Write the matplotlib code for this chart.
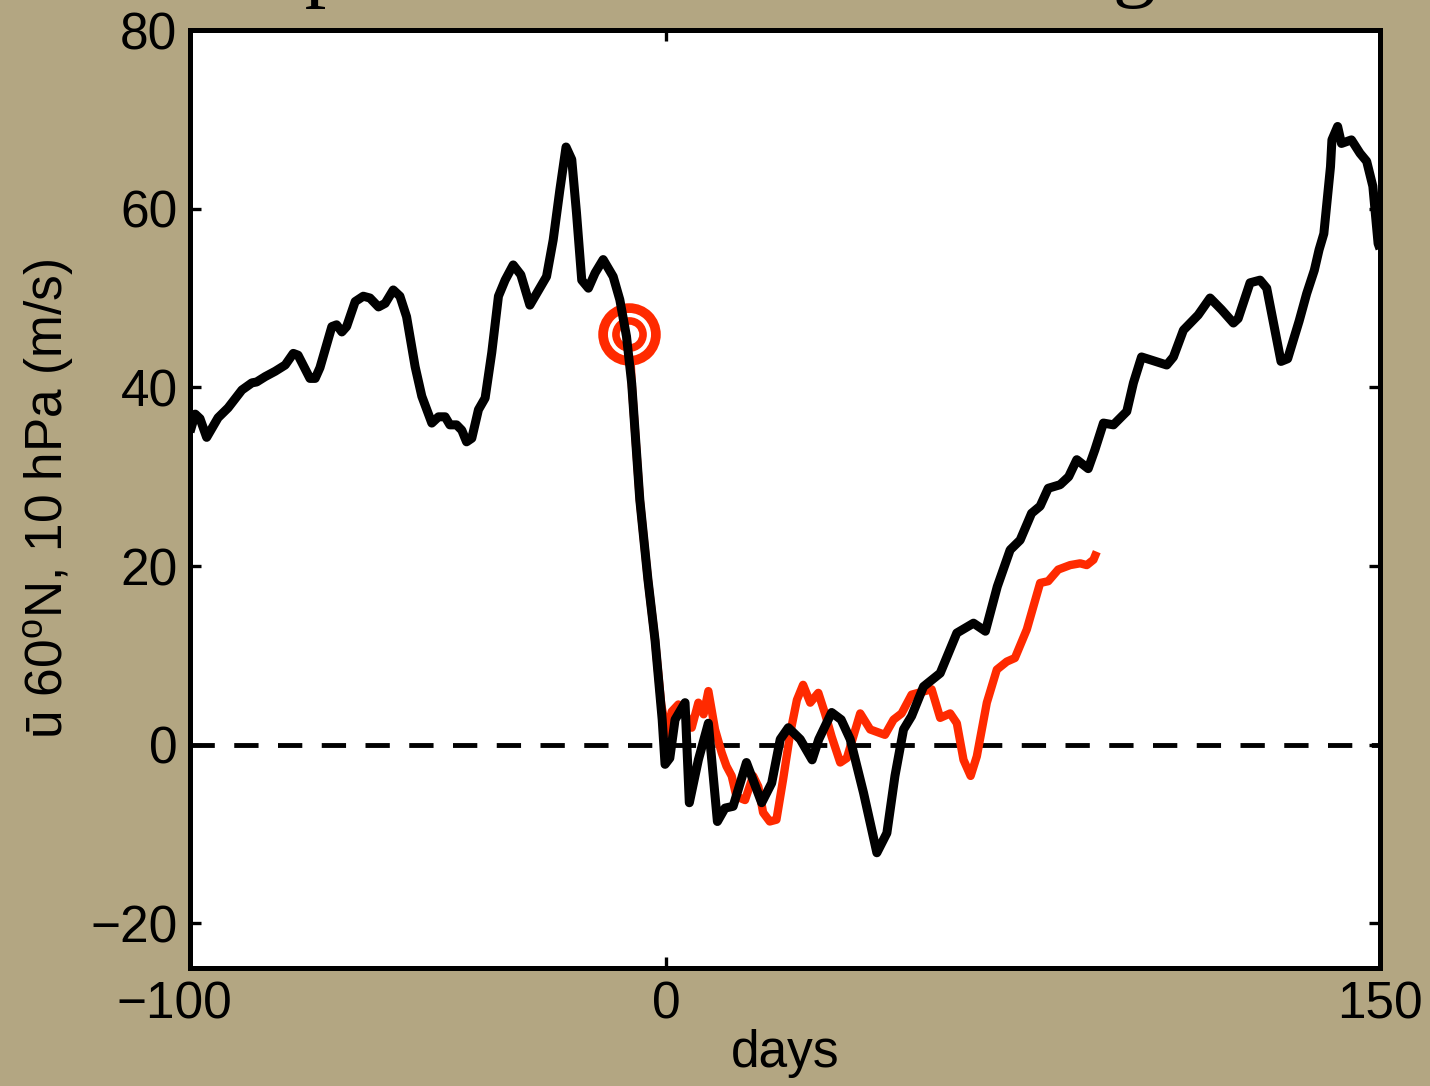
import matplotlib
matplotlib.use("Agg")
import matplotlib.pyplot as plt
from matplotlib.transforms import ScaledTranslation

plt.rcParams['font.family'] = ['Liberation Sans', 'DejaVu Sans']
plt.rcParams['mathtext.fontset'] = 'custom'
plt.rcParams['mathtext.rm'] = 'Liberation Sans'
plt.rcParams['mathtext.it'] = 'Liberation Sans:italic'
plt.rcParams['axes.unicode_minus'] = True

# Zonal-mean wind at 60N, 10 hPa (m/s) against days from the central date
obs_days = [-100, -98.9, -97.9, -96.5, -94.1, -92.0, -89.1, -87.0, -86.0, -84.2,
            -82.1, -80.0, -78.3, -77.3, -74.8, -73.7, -72.7, -70.2, -69.2, -68.1,
            -67.1, -65.3, -63.6, -62.2, -60.4, -59.0, -57.3, -55.9, -54.5, -52.7,
            -51.3, -49.2, -47.8, -46.4, -45.4, -44.0, -42.9, -41.9, -40.8, -39.4,
            -38.0, -36.6, -35.2, -33.8, -32.1, -30.5, -28.6, -25.1, -23.7, -22.3,
            -21.0, -19.8, -18.8, -17.7, -16.3, -14.9, -13.2, -11.1, -9.7, -8.3,
            -7.2, -5.5, -3.8, -2.3, -0.8, -0.2, 0.8, 1.9, 4.0, 4.9,
            6.8, 8.9, 10.8, 12.4, 14.1, 16.9, 20.1, 22.2, 24.0, 25.7,
            28.2, 30.7, 32.1, 34.8, 36.8, 38.7, 41.5, 44.3, 46.4, 48.1,
            49.9, 51.6, 54.1, 57.6, 61.1, 64.6, 67.1, 69.6, 72.3, 74.4,
            76.8, 78.6, 80.3, 82.8, 84.6, 86.3, 88.7, 90.1, 91.9, 94.0,
            96.8, 98.2, 99.9, 105.2, 106.6, 108.7, 111.8, 114.3, 116.7, 119.2,
            120.2, 122.7, 124.8, 126.2, 129.2, 130.6, 133.0, 134.6, 136.2, 137.2,
            138.2, 139.6, 139.9, 141.1, 141.9, 144.0, 145.8, 147.2, 148.5, 149.6,
            150.0]
obs_wind = [35.0, 37.0, 36.5, 34.4, 36.6, 37.7, 39.7, 40.5, 40.6, 41.2,
            41.8, 42.5, 43.8, 43.6, 41.0, 41.0, 42.2, 46.8, 47.0, 46.2,
            46.8, 49.6, 50.2, 50.0, 49.0, 49.4, 50.9, 50.2, 47.9, 42.3,
            39.0, 36.0, 36.7, 36.7, 35.8, 35.8, 35.2, 33.9, 34.3, 37.5,
            38.8, 43.9, 50.2, 52.0, 53.7, 52.6, 49.2, 52.4, 56.5, 62.1,
            66.9, 65.5, 59.5, 52.0, 51.1, 52.8, 54.3, 52.4, 49.8, 45.7,
            40.4, 27.4, 18.5, 11.7, 2.8, -2.2, -1.5, 2.8, 4.7, -6.5,
            -1.7, 2.4, -8.6, -7.1, -6.9, -2.0, -6.5, -4.3, 0.6, 1.9,
            0.6, -1.7, 0.6, 3.6, 2.8, 0.6, -5.4, -12.1, -9.9, -3.5,
            1.7, 3.2, 6.5, 8.0, 12.5, 13.6, 12.7, 17.7, 21.8, 22.9,
            25.9, 26.7, 28.7, 29.1, 30.0, 31.9, 30.9, 33.0, 36.0, 35.8,
            37.3, 40.5, 43.4, 42.5, 43.4, 46.4, 48.1, 50.0, 48.7, 47.2,
            47.7, 51.7, 52.0, 51.1, 42.9, 43.2, 47.4, 50.5, 53.1, 55.4,
            57.2, 64.7, 67.7, 69.2, 67.3, 67.7, 66.2, 65.3, 62.5, 56.1,
            55.5]

# Forecast started from the marked date
fc_days = [-7.7, -7.2, -5.5, -3.8, -2.3, -1.0, 0.2, 1.2, 2.6, 4.0,
           5.4, 6.8, 7.9, 8.9, 10.3, 11.7, 12.7, 13.8, 14.8, 16.6,
           18.3, 19.4, 20.4, 21.8, 23.2, 24.6, 26.1, 27.5, 28.8, 30.3,
           32.0, 33.4, 34.8, 36.6, 38.0, 40.8, 42.9, 46.0, 47.8, 49.5,
           51.6, 53.0, 55.8, 57.6, 59.7, 61.1, 62.5, 64.0, 65.3, 67.4,
           69.5, 71.6, 73.3, 75.8, 78.6, 80.3, 82.4, 84.9, 87.0, 88.4,
           89.8, 90.5]
fc_wind = [46.0, 40.4, 27.4, 18.5, 11.7, 4.5, 1.0, 3.7, 4.5, 3.5,
           1.9, 4.7, 3.4, 6.0, 1.7, -0.9, -2.4, -3.5, -5.8, -6.2,
           -3.5, -4.7, -7.6, -8.6, -8.4, -3.9, 1.3, 5.0, 6.7, 4.7,
           5.8, 3.5, 0.9, -2.0, -1.5, 3.5, 1.7, 1.1, 2.8, 3.5,
           5.6, 5.8, 6.2, 3.0, 3.5, 2.4, -1.7, -3.5, -1.3, 4.7,
           8.4, 9.3, 9.7, 12.9, 18.1, 18.3, 19.6, 20.1, 20.3, 20.1,
           20.7, 21.6]

start_day = [-7.7]
start_wind = [46.0]

x_ticks = [-100, 0, 150]
y_ticks = [-20, 0, 20, 40, 60, 80]

bg = '#b3a682'
red = '#ff2a00'

fig = plt.figure(figsize=(14.3, 10.86), dpi=100, facecolor=bg)

fig.text(104 / 1430, 1 + 10 / 1086, 'Example of a sudden warming',
         family='Liberation Serif', fontsize=62, ha='left', va='baseline',
         color='black')

ax = fig.add_axes([190 / 1430, 1 - 968 / 1086, 1190 / 1430, 938 / 1086])
ax.set_facecolor('white')

ax.axhline(0, color='black', lw=3.5, dashes=(5, 4), zorder=1)
ax.plot(fc_days, fc_wind, color=red, lw=6.0, solid_joinstyle='round',
        solid_capstyle='butt', zorder=2)
# concentric target marking the forecast start
for ms, col in [(45, red), (31, 'white'), (25, red), (14, 'white')]:
    ax.plot(start_day, start_wind, 'o', ms=ms, mfc=col, mec='none', zorder=3)
ax.plot(obs_days, obs_wind, color='black', lw=6.5, solid_joinstyle='round',
        solid_capstyle='butt', zorder=4)

ax.set_xlim(-100, 150)
ax.set_ylim(-25, 80)
ax.set_xticks(x_ticks)
ax.set_yticks(y_ticks)
ax.set_xticklabels(['\u2212100', '0', '150'])
ax.set_yticklabels(['\u221220', '0', '20', '40', '60', '80'])
ax.tick_params(direction='in', length=8, width=2.4, top=True, right=True,
               labelsize=37, pad=9, colors='black')
for sp in ax.spines.values():
    sp.set_linewidth(3.6)
    sp.set_zorder(5)

ax.set_xlabel('days', fontsize=37, labelpad=0)
ax.set_ylabel('\u016b 60$^{\\mathrm{o}}$N, 10 hPa (m/s)', fontsize=37, labelpad=10)

# keep the digits of the negative label centred on its tick
lab = ax.xaxis.get_major_ticks()[0].label1
lab.set_transform(lab.get_transform() + ScaledTranslation(-0.16, 0, fig.dpi_scale_trans))

fig.savefig('out.png', dpi=100, facecolor=bg)
